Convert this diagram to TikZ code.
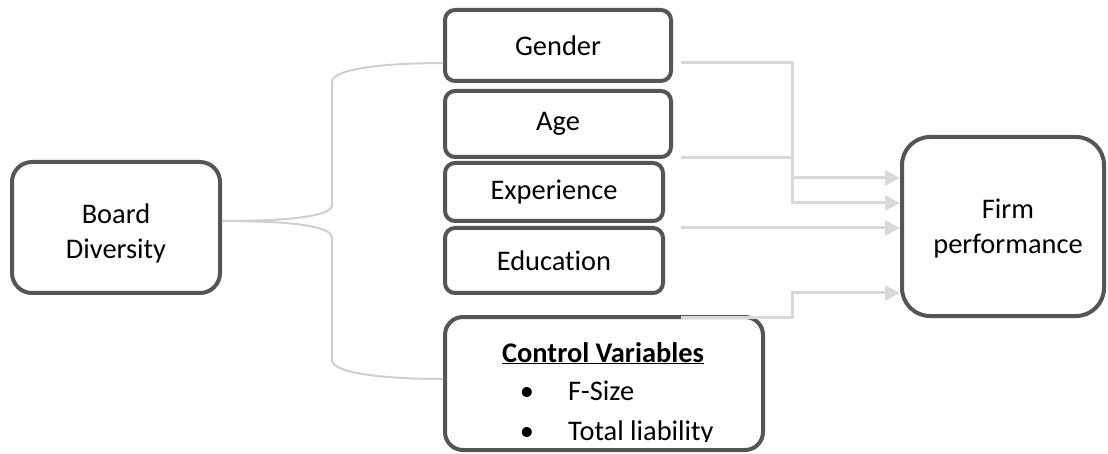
\documentclass[tikz,border=0pt]{standalone}
\usepackage{fontspec}
\setmainfont{Carlito}[Ligatures={TeX,NoCommon}]
\usetikzlibrary{arrows.meta,calc}
\definecolor{boxline}{HTML}{555555}
\definecolor{bracecol}{HTML}{CFCFCF}
\definecolor{arrowcol}{HTML}{D9D9D9}
\begin{document}
\begin{tikzpicture}[x=1pt,y=-1pt,
  txt/.style={font=\fontsize{28.4}{35}\selectfont},
  rbox/.style={draw=boxline, line width=4pt, fill=white, inner sep=0pt,
    align=center, txt},
  bracelink/.style={draw=bracecol, line width=2pt},
  arrowlink/.style={draw=arrowcol, line width=3pt,
    -{Triangle[length=15pt,width=15pt,fill=arrowcol]}}]
\useasboundingbox (0,0) rectangle (1108,454);

% boxes
\node[rbox, rounded corners=20pt, minimum width=208pt, minimum height=131pt] (board) at (116,227.5) {};
\node[txt, align=center, inner sep=0pt] (boardtext) at (116,233) {Board\\Diversity};
\node[rbox, rounded corners=10pt, minimum width=226pt, minimum height=71pt] (gender) at (558,45.5) {Gender};
\node[rbox, rounded corners=10pt, minimum width=226pt, minimum height=66pt] (age) at (558,124) {Age};
\node[rbox, rounded corners=10pt, minimum width=218pt, minimum height=58pt] (exper) at (554,192) {Experience};
\node[rbox, rounded corners=10pt, minimum width=218pt, minimum height=65pt] (educ) at (554,260.5) {Education};
\node[rbox, rounded corners=18pt, minimum width=318pt, minimum height=133pt] (control) at (604,383.5) {};
\node[rbox, rounded corners=28pt, minimum width=202pt, minimum height=179pt] (firm) at (1003,226.5) {};
\node[txt, align=center, inner sep=0pt] (firmtext) at (1008,229) {Firm\\performance};

% control variables text
\begin{scope}
\clip (443,315) rectangle (765,441.5);
\node[txt, anchor=base, inner sep=0pt] (cvtitle) at (603,362) {\bfseries\underline{Control Variables}};
\node[txt, anchor=base, inner sep=0pt] (b1) at (527,400) {\textbullet};
\node[txt, anchor=base west, inner sep=0pt] (fsize) at (568,400) {F-Size};
\node[txt, anchor=base, inner sep=0pt] (b2) at (527,440) {\textbullet};
\node[txt, anchor=base west, inner sep=0pt] (tliab) at (568,440) {Total liability};
\end{scope}

% left brace connectors
\draw[bracelink] ($(board.east)+(0,-6.5)$) .. controls (305,221) and (332,214) .. (332,205)
  -- (332,82) .. controls (332,68) and (390,63) .. (gender.west |- 0,63);
\draw[bracelink] ($(board.east)+(0,-6.5)$) .. controls (305,221) and (332,228) .. (332,238)
  -- (332,360) .. controls (332,374) and (390,379) .. (control.west |- 0,379);

% right connectors
\draw[arrowlink] ($(gender.east)+(8,17.5)$) -| (792,203) -- (firm.west |- 0,203);
\draw[arrowlink] ($(age.east)+(8,34)$) -| (792,178) -- (firm.west |- 0,178);
\draw[arrowlink] ($(exper.east)+(16,36)$) -- (firm.west |- 0,228);
\draw[arrowlink] ($(control.north)+(77,2)$) -| (792,293) -- (firm.west |- 0,293);
\end{tikzpicture}
\end{document}
